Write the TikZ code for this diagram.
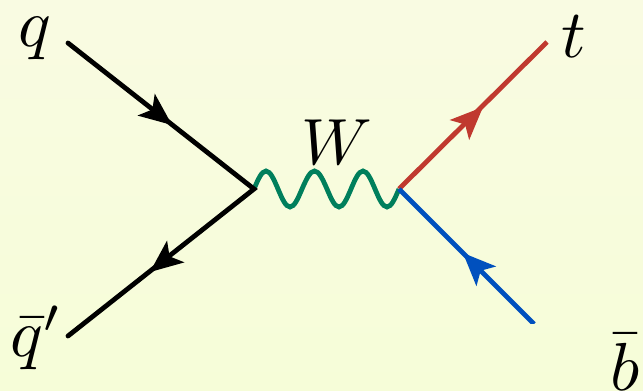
\documentclass[tikz,border=0pt]{standalone}
\usetikzlibrary{arrows.meta,shadings}
\definecolor{bgtop}{HTML}{F9FBE2}
\definecolor{bgbot}{HTML}{F6FDD8}
\definecolor{wgreen}{HTML}{007F5C}
\definecolor{tred}{HTML}{C0392F}
\definecolor{bblue}{HTML}{0050BE}
\tikzset{
  lbl/.style={scale=6.8,inner sep=0pt,outer sep=0pt,text=black},
  fermion/.style={line width=4.8pt,line join=miter},
  tipmark/.style={-{Stealth[length=33pt,width=28pt,inset=8pt,line width=0pt]},line width=0.1pt},
  boson/.style={wgreen,line width=4.8pt}
}
\begin{document}
\begin{tikzpicture}[x=1pt,y=-1pt]
\useasboundingbox (0,0) rectangle (643,391);
\clip (0,0) rectangle (643,391);
\shade[top color=bgtop,bottom color=bgbot] (0,0) rectangle (643,391);
\coordinate (qs) at (68,43);
\coordinate (qbs) at (68,336);
\coordinate (v1) at (254,189);
\coordinate (v2) at (399,189);
\coordinate (ts) at (547,42);
\coordinate (bs) at (534,324);
\coordinate (m1) at (172,125);
\coordinate (m2) at (150,272);
\coordinate (m3) at (483,107);
\coordinate (m4) at (463,253);
\node[lbl] (q) at (34.5,38) {$q$};
\node[lbl] (qb) at (36.5,338) {$\bar q'$};
\node[lbl] (t) at (573.5,37) {$t$};
\node[lbl] (b) at (625,362) {$\bar b$};
\node[lbl,scale=0.96] (W) at (337,142) {$W$};
\draw[boson] (v1) sin ++(12,-18) cos ++(12,18) sin ++(12,18) cos ++(12,-18)
  sin ++(12.5,-18) cos ++(12.5,18) sin ++(12,18) cos ++(12,-18)
  sin ++(12,-18) cos ++(12,18) sin ++(12,18) cos (v2);
\draw[fermion,line cap=round] (qs) -- (v1) -- (qbs);
\draw[tipmark,black] (v1) -- (m2);
\draw[tipmark,black] (qs) -- (m1);
\draw[fermion,tred] (v2) -- (ts);
\draw[tipmark,tred] (v2) -- (m3);
\begin{scope}
\clip (380,170) rectangle (560,323);
\draw[fermion,bblue] (v2) -- (bs);
\draw[tipmark,bblue] (bs) -- (m4);
\end{scope}
\end{tikzpicture}
\end{document}
